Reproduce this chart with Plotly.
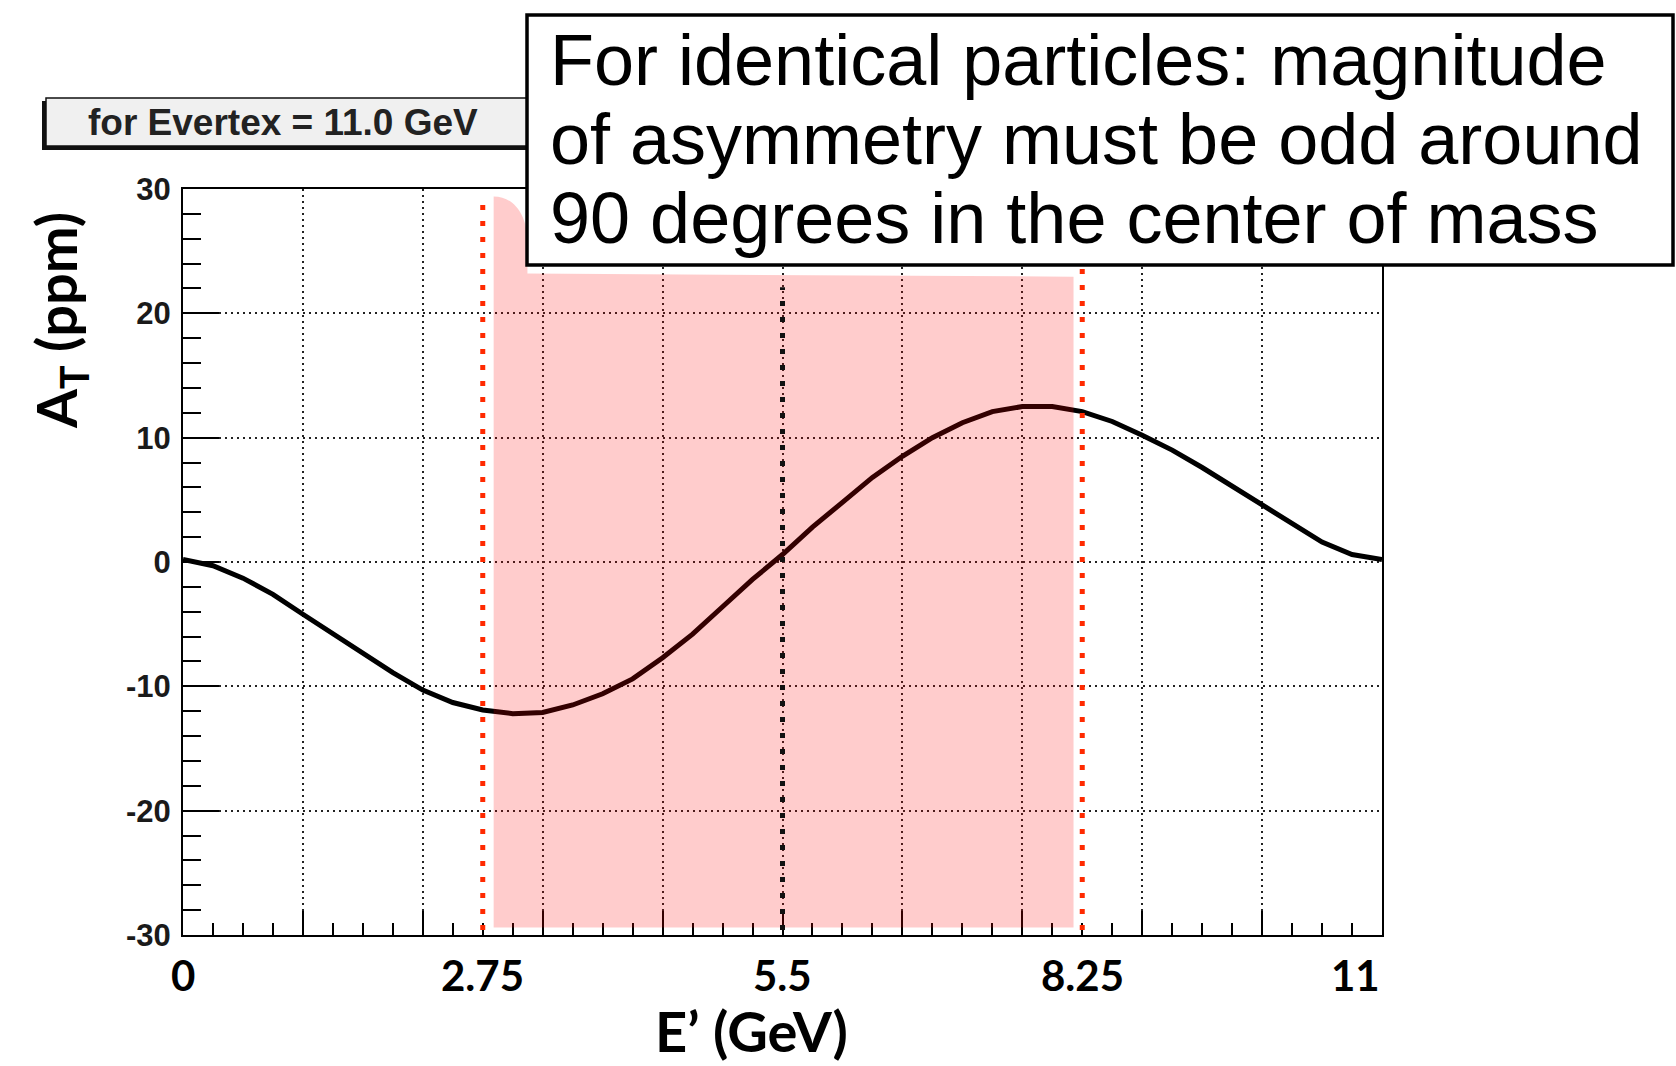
import plotly.graph_objects as go

# ---------------- data ----------------
e_prime = [0, 0.275, 0.55, 0.825, 1.1, 1.375, 1.65, 1.925, 2.2, 2.475, 2.75,
           3.025, 3.3, 3.575, 3.85, 4.125, 4.4, 4.675, 4.95, 5.225, 5.5,
           5.775, 6.05, 6.325, 6.6, 6.875, 7.15, 7.425, 7.7, 7.975, 8.25,
           8.525, 8.8, 9.075, 9.35, 9.625, 9.9, 10.175, 10.45, 10.725, 11]
a_t = [0.2, -0.3, -1.3, -2.6, -4.2, -5.8, -7.4, -8.9, -10.3, -11.3, -11.9,
       -12.2, -12.1, -11.5, -10.6, -9.4, -7.7, -5.8, -3.6, -1.4, 0.6,
       2.8, 4.8, 6.8, 8.5, 10.0, 11.2, 12.1, 12.5, 12.5, 12.1,
       11.3, 10.2, 9.0, 7.6, 6.1, 4.5, 3.0, 1.6, 0.6, 0.2]

x_tick_vals = [0, 2.75, 5.5, 8.25, 11]
x_tick_text = ["0", "2.75", "5.5", "8.25", "11"]
y_tick_vals = [-30, -20, -10, 0, 10, 20, 30]
y_tick_text = ["-30", "-20", "-10", "0", "10", "20", "30"]

# highlighted region (E' bounds, A_T bounds)
region_x = [2.85, 8.17]
region_y_bottom = -29.4
region_top_left = 29.4
region_top_under_box = [23.2, 22.95]

# vertical marker lines: position, colour, top value
marker_x = [2.75, 5.5, 8.25]
marker_color = ["#ff2a00", "#111111", "#ff2a00"]
marker_top = [29.2, 22.1, 29.2]
marker_bottom = -29.6

label_text = "for Evertex = 11.0 GeV"
note_lines = ["For identical particles: magnitude",
              "of asymmetry must be odd around",
              "90 degrees in the center of mass"]

# ---------------- layout helpers ----------------
W, H = 1676, 1066
L, R, T, B = 183, 1382, 189, 935


def px(x):
    return (x - L) / (R - L)


def py(y):
    return (B - y) / (B - T)


fig = go.Figure()
fig.add_trace(go.Scatter(x=e_prime, y=a_t, mode="lines",
                         line=dict(color="black", width=5),
                         showlegend=False, hoverinfo="skip"))

shapes = []
x0, x1 = region_x
path = (f"M {x0},{region_y_bottom} L {x0},{region_top_left} "
        f"C {x0 + 0.18},{region_top_left} {x0 + 0.31},{region_top_left - 1.4} "
        f"{x0 + 0.31},{region_top_left - 3.7} "
        f"L {x0 + 0.31},{region_top_under_box[0]} L {x1},{region_top_under_box[1]} "
        f"L {x1},{region_y_bottom} Z")
shapes.append(dict(type="path", path=path, xref="x", yref="y",
                   fillcolor="rgba(255,0,0,0.2)", line=dict(width=0),
                   layer="above"))
for mx, mc, mt in zip(marker_x, marker_color, marker_top):
    shapes.append(dict(type="line", xref="x", yref="y", x0=mx, x1=mx,
                       y0=marker_bottom, y1=mt,
                       line=dict(color=mc, width=5, dash="5px,11px"),
                       layer="above"))

# label box with shadow
shapes.append(dict(type="rect", xref="paper", yref="paper",
                   x0=px(42), x1=px(536), y0=py(150), y1=py(101),
                   fillcolor="#111111", line=dict(width=0), layer="above"))
shapes.append(dict(type="rect", xref="paper", yref="paper",
                   x0=px(46), x1=px(540), y0=py(146), y1=py(98),
                   fillcolor="#f0f0f0", line=dict(color="#111111", width=1.5),
                   layer="above"))
# note box
shapes.append(dict(type="rect", xref="paper", yref="paper",
                   x0=px(527), x1=px(1673), y0=py(265), y1=py(15),
                   fillcolor="white", line=dict(color="black", width=3.5),
                   layer="above"))
fig.update_layout(shapes=shapes)

ann = []
ann.append(dict(text=label_text, xref="paper", yref="paper",
                x=px(86), y=py(123), xanchor="left", yanchor="middle",
                showarrow=False,
                font=dict(family="Liberation Sans", size=37, color="#222222",
                          weight="bold")))
for i, line in enumerate(note_lines):
    ann.append(dict(text=line, xref="paper", yref="paper",
                    x=px(548), y=py(60 + 79 * i), xanchor="left",
                    yanchor="middle", showarrow=False,
                    font=dict(family="Liberation Sans", size=72, color="black")))
for v, t in zip(x_tick_vals, x_tick_text):
    ann.append(dict(text=t, xref="x", yref="paper", x=v, y=py(975),
                    xanchor="right" if v == x_tick_vals[-1] else "center",
                    yanchor="middle", showarrow=False,
                    font=dict(family="Lato", size=42, color="black",
                              weight="bold")))
ann.append(dict(text="E’ (GeV)", xref="paper", yref="paper",
                x=px(751), y=py(1030), xanchor="center", yanchor="middle",
                showarrow=False,
                font=dict(family="Lato", size=56, color="black", weight="bold")))
ann.append(dict(text="A<sub>T</sub> (ppm)", xref="paper", yref="paper",
                x=px(59), y=py(321), xanchor="center", yanchor="middle",
                textangle=-90, showarrow=False,
                font=dict(family="Lato", size=56, color="black", weight="bold")))
fig.update_layout(annotations=ann)

fig.update_xaxes(range=[0, 11], tick0=0, dtick=1.1, ticks="inside",
                 ticklen=24, tickwidth=2, tickcolor="black",
                 showticklabels=False, showline=True, linecolor="black",
                 linewidth=2, mirror=True, showgrid=True, gridcolor="#222222",
                 gridwidth=1.5, griddash="2px,4px", zeroline=False,
                 minor=dict(dtick=0.275, ticks="inside", ticklen=12,
                            tickwidth=2, tickcolor="black", showgrid=False))
fig.update_yaxes(range=[-30, 30], tickmode="array", tickvals=y_tick_vals,
                 ticktext=y_tick_text, ticks="inside",
                 ticklen=36, tickwidth=2, tickcolor="black",
                 showline=True, linecolor="black", linewidth=2, mirror=True,
                 showgrid=True, gridcolor="#222222", gridwidth=1.5,
                 griddash="2px,4px", zeroline=False,
                 ticklabelstandoff=4,
                 tickfont=dict(family="Liberation Sans", size=31,
                               color="#1a1a1a", weight="bold"),
                 minor=dict(tickmode="linear", tick0=0, dtick=2,
                            ticks="inside", ticklen=18,
                            tickwidth=2, tickcolor="black", showgrid=False))

fig.update_layout(width=W, height=H, plot_bgcolor="white",
                  paper_bgcolor="white",
                  margin=dict(l=L, r=W - R, t=T, b=H - B, pad=0),
                  showlegend=False)

fig.write_html("out.html", config={"displayModeBar": False},
               post_script="document.body.style.margin='0';")
